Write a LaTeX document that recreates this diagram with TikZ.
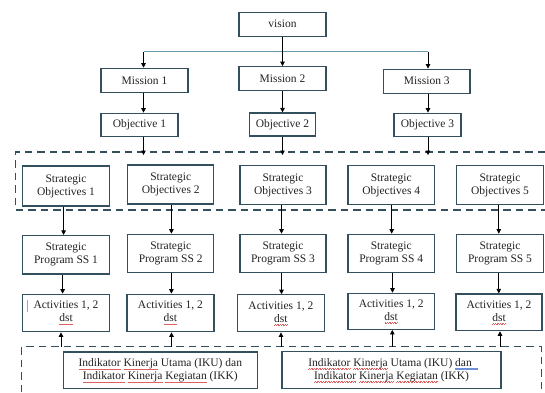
\documentclass[tikz,border=0pt]{standalone}
\usepackage{fontspec}
\setmainfont{Liberation Serif}
\usetikzlibrary{arrows.meta}
\definecolor{boxc}{HTML}{34505F}
\definecolor{dashc}{HTML}{34505F}
\definecolor{hlinec}{HTML}{6A97AC}
\definecolor{txtc}{HTML}{222222}
\definecolor{wavec}{HTML}{E06060}
\definecolor{bluec}{HTML}{7090D8}
\newcommand\rw[1]{\setbox0=\hbox{#1}\rlap{\color{wavec}\xleaders\hbox to 1.6pt{\rule[-2.8pt]{0.8pt}{0.28pt}\rule[-2.4pt]{0.8pt}{0.28pt}}\hskip\wd0}#1}
\newcommand\bu[1]{\setbox0=\hbox{#1}\rlap{\color{bluec}\rlap{\rule[-2.3pt]{\wd0}{0.3pt}}\rule[-3.4pt]{\wd0}{0.3pt}}#1}
\begin{document}
\begin{tikzpicture}[x=1bp,y=-1bp,
  box/.style={draw=boxc, line width=1.2bp, inner sep=0pt, align=center, text=txtc,
    font=\fontsize{11.5bp}{13bp}\selectfont},
  conn/.style={draw=black, line width=0.8bp, -{Triangle[length=4.5bp,width=4.5bp]}},
  dashbox/.style={draw=dashc, line width=1.4bp, dash pattern=on 7.5bp off 5bp}]
\useasboundingbox (0,0) rectangle (545,392);
\fill[white] (0,0) rectangle (545,392);

% top levels
\node[box, minimum width=87bp, minimum height=24bp] (vis) at (282.5,24.2) {vision};
\node[box, minimum width=87bp, minimum height=24bp] (m1) at (144.5,80.3) {Mission 1};
\node[box, minimum width=87bp, minimum height=24bp] (m2) at (282.5,78.7) {Mission 2};
\node[box, minimum width=86.5bp, minimum height=24bp] (m3) at (426.8,81.2) {Mission 3};
\node[box, minimum width=77bp, minimum height=23.5bp] (o1) at (139.5,125) {Objective 1};
\node[box, minimum width=66bp, minimum height=23bp] (o2) at (282.5,124.5) {Objective 2};
\node[box, minimum width=67bp, minimum height=23.5bp] (o3) at (427.5,125) {Objective 3};

% dashed frames
\draw[dashbox] (545,152) -- (15.6,152) -- (15.6,210) -- (545,210);
\draw[dashbox] (21.6,392) -- (21.6,346.7) -- (541.5,346.7) -- (541.5,392);
\coordinate (top1) at (0,152);
\coordinate (top2) at (0,346.7);

% strategic objectives
\node[box, minimum width=87bp, minimum height=40bp] (so1) at (66,186) {Strategic\\Objectives 1};
\node[box, minimum width=86bp, minimum height=39bp] (so2) at (170.7,184.5) {Strategic\\Objectives 2};
\node[box, minimum width=86bp, minimum height=39bp] (so3) at (283,185.3) {Strategic\\Objectives 3};
\node[box, minimum width=86.5bp, minimum height=39bp] (so4) at (391.2,185.3) {Strategic\\Objectives 4};
\node[box, minimum width=87bp, minimum height=39bp] (so5) at (500,185.3) {Strategic\\Objectives 5};

% strategic programs
\node[box, minimum width=87bp, minimum height=38.5bp] (sp1) at (66,254.8) {Strategic\\Program SS 1};
\node[box, minimum width=86bp, minimum height=38.5bp] (sp2) at (170.7,253.5) {Strategic\\Program SS 2};
\node[box, minimum width=86bp, minimum height=38.5bp] (sp3) at (283,253.5) {Strategic\\Program SS 3};
\node[box, minimum width=86.5bp, minimum height=38.5bp] (sp4) at (391.2,253.5) {Strategic\\Program SS 4};
\node[box, minimum width=87bp, minimum height=38.5bp] (sp5) at (500,253.5) {Strategic\\Program SS 5};

% activities
\node[box, minimum width=87bp, minimum height=37.5bp] (a1) at (66,313) {Activities 1, 2\\\rw{dst}};
\node[box, minimum width=87bp, minimum height=37.5bp] (a2) at (170.4,313) {Activities 1, 2\\\rw{dst}};
\node[box, minimum width=87bp, minimum height=37bp] (a3) at (280.9,313.3) {Activities 1, 2\\\rw{dst}};
\node[box, minimum width=86.5bp, minimum height=36bp] (a4) at (391.2,311.3) {Activities 1, 2\\\rw{dst}};
\node[box, minimum width=86bp, minimum height=36.7bp] (a5) at (499,312.3) {Activities 1, 2\\\rw{dst}};
\draw[gray!70, line width=0.4bp] ([xshift=5bp,yshift=-6.5bp]a1.north west) -- ++(0,11.5);

% indicators
\node[box, minimum width=194bp, minimum height=36.5bp] (iku1) at (160.3,370.3)
  {\rw{Indikator} \rw{Kinerja} Utama (IKU) dan\\\rw{Indikator} \rw{Kinerja} \rw{Kegiatan} (IKK)};
\node[box, minimum width=219bp, minimum height=36.5bp] (iku2) at (391.5,370)
  {\rw{Indikator} \rw{Kinerja} Utama (IKU) \bu{dan\ \ }\\\rw{Indikator} \rw{Kinerja} \rw{Kegiatan} (IKK)};

% vision to missions
\coordinate (j1) at (143.5,51.7);
\coordinate (j2) at (282.5,51.7);
\coordinate (j3) at (428,51.7);
\draw[hlinec, line width=1bp] (j1) -- (j3);
\draw[conn] (vis.south) -- (m2.north);
\draw[conn] (j1) -- (j1 |- m1.north);
\draw[conn] (j3) -- (j3 |- m3.north);

% missions to objectives
\draw[conn] (m1.south -| j1) -- (o1.north -| j1);
\draw[conn] (m2.south) -- (o2.north);
\draw[conn] (m3.south -| j3) -- (o3.north -| j3);

% objectives to dashed frame
\coordinate (t1) at (143.5,155);
\coordinate (t2) at (282.5,155);
\coordinate (t3) at (428,155);
\draw[conn] (o1.south -| t1) -- (t1);
\draw[conn] (o2.south) -- (t2);
\draw[conn] (o3.south -| t3) -- (t3);

% SO to SP
\foreach \i/\x in {1/63.6,2/171.4,3/281.5,4/391.7,5/498.8}{
  \draw[conn] (so\i.south -| \x,0) -- (sp\i.north -| \x,0);
}
% SP to activities
\foreach \i/\x in {1/62.6,2/171.4,3/281.5,4/392.5,5/498.8}{
  \draw[conn] (sp\i.south -| \x,0) -- (a\i.north -| \x,0);
}
% indicators frame to activities
\foreach \i/\x in {1/61,2/171.5,3/281,4/392.3,5/500}{
  \draw[conn] (top2 -| \x,0) -- (a\i.south -| \x,0);
}
\end{tikzpicture}
\end{document}
